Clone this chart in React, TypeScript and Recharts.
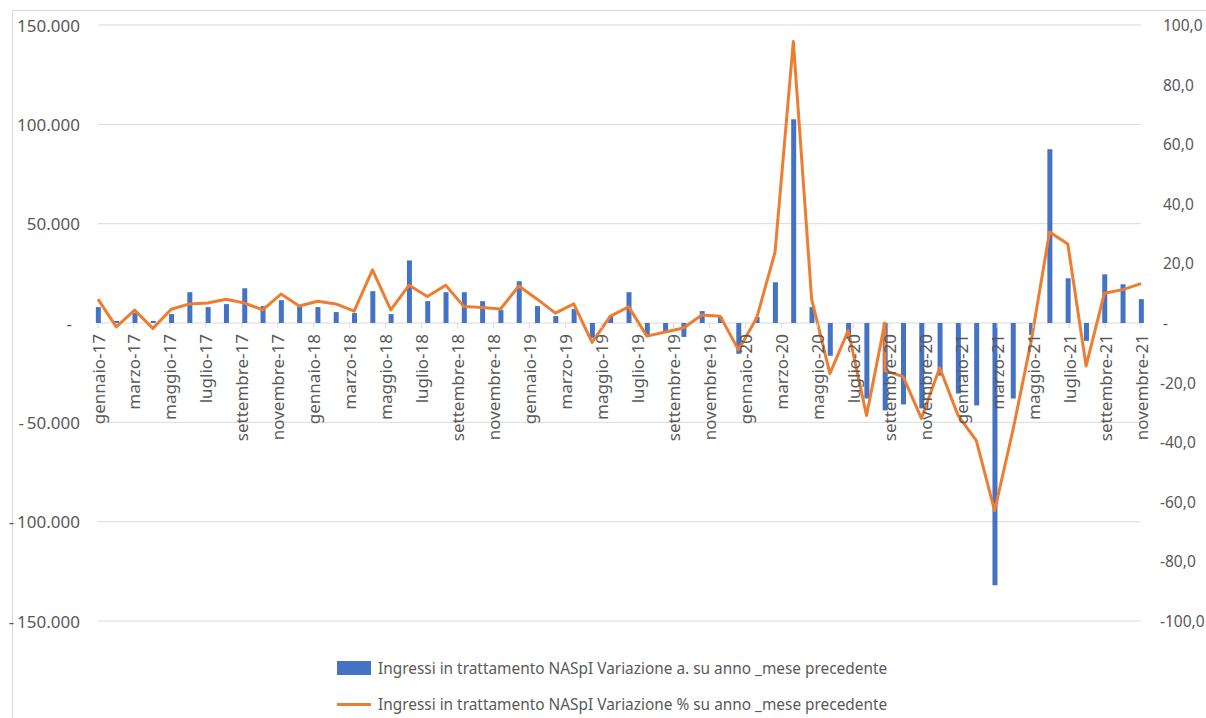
import React from "react";
import {
  Bar,
  CartesianGrid,
  ComposedChart,
  Line,
  XAxis,
  YAxis,
} from "recharts";

// axis labels: one per month
const MONTHS = [
  "gennaio-17", "febbraio-17", "marzo-17", "aprile-17", "maggio-17", "giugno-17",
  "luglio-17", "agosto-17", "settembre-17", "ottobre-17", "novembre-17", "dicembre-17",
  "gennaio-18", "febbraio-18", "marzo-18", "aprile-18", "maggio-18", "giugno-18",
  "luglio-18", "agosto-18", "settembre-18", "ottobre-18", "novembre-18", "dicembre-18",
  "gennaio-19", "febbraio-19", "marzo-19", "aprile-19", "maggio-19", "giugno-19",
  "luglio-19", "agosto-19", "settembre-19", "ottobre-19", "novembre-19", "dicembre-19",
  "gennaio-20", "febbraio-20", "marzo-20", "aprile-20", "maggio-20", "giugno-20",
  "luglio-20", "agosto-20", "settembre-20", "ottobre-20", "novembre-20", "dicembre-20",
  "gennaio-21", "febbraio-21", "marzo-21", "aprile-21", "maggio-21", "giugno-21",
  "luglio-21", "agosto-21", "settembre-21", "ottobre-21", "novembre-21",
];

// date each data row is filed under; the agosto-20 row sits on the settembre-20 date
const ROW_DATES = [
  ...MONTHS.slice(0, 43),
  "settembre-20",
  ...MONTHS.slice(44),
];

// Variazione assoluta su anno, mese precedente
const ABS_CHANGE: (number | null)[] = [
  8000, 1000, 5000, 1000, 4500, 15500, 8000, 9500, 17500, 8500, 11500, 9000,
  8000, 5500, 5000, 16000, 4500, 31500, 11000, 15500, 15500, 11000, 6500, 21000,
  8500, 3500, 7000, -7500, 3500, 15500, -6000, -4000, -7000, 6000, 3000, -15500,
  3000, 20500, 102500, 8000, -16500, -8000, -38000, null, -44000, -41000, -43000, -26500,
  -35500, -41500, -132000, -38000, -6000, 87500, 22500, -9000, 24500, 19500, 12000,
];

// Variazione % su anno, mese precedente
const PCT_CHANGE = [
  8.0, -1.3, 4.3, -1.8, 4.6, 6.4, 6.7, 8.0, 6.7, 4.4, 9.7, 5.7,
  7.3, 6.4, 4.0, 17.8, 4.4, 12.7, 8.9, 12.7, 5.5, 5.2, 4.7, 12.4,
  8.0, 3.3, 6.4, -6.5, 2.3, 5.4, -4.4, -3.0, -1.7, 2.7, 2.3, -9.0,
  1.7, 23.8, 94.5, 8.0, -17.0, -2.5, -31.0, 0.0, -16.0, -18.0, -32.0, -15.0,
  -31.0, -39.5, -63.0, -36.0, -6.0, 30.5, 26.5, -14.4, 10.0, 11.2, 13.2,
];

const LEFT_TICKS = [-150000, -100000, -50000, 0, 50000, 100000, 150000];
const RIGHT_TICKS = [-100, -80, -60, -40, -20, 0, 20, 40, 60, 80, 100];

const LEGEND_BAR = "Ingressi in trattamento NASpI Variazione a. su anno _mese precedente";
const LEGEND_LINE = "Ingressi in trattamento NASpI Variazione % su anno _mese precedente";

const BLUE = "#4472C4";
const ORANGE = "#ED7D31";
const TEXT = "#595959";
const GRID = "#d9d9d9";
const FONT = "'Noto Sans', 'Open Sans', sans-serif";
const AXIS_FONT = 17;
const RIGHT_FONT = 15.5;

const W = 1206;
const H = 718;
const PLOT_TOP = 25;
const PLOT_BOTTOM = 621;
const ZERO_Y = (PLOT_TOP + PLOT_BOTTOM) / 2;

const slots = Array.from(new Set(ROW_DATES));

const rows = ROW_DATES.map((date, i) => ({
  slot: slots.indexOf(date),
  abs: ABS_CHANGE[i],
  pct: PCT_CHANGE[i],
}));

const labelTicks = MONTHS.map((_, i) => i).filter((i) => i % 2 === 0);

const thousands = (n: number) => String(n).replace(/\B(?=(\d{3})+(?!\d))/g, ".");

function LeftTick({ x, y, payload }: any) {
  const v = payload.value as number;
  let label = thousands(Math.abs(v));
  let tx = x;
  if (v === 0) {
    label = "-";
    tx = x - 8;
  } else if (v < 0) {
    label = "-\u2009" + label;
  }
  return (
    <text x={tx} y={y} textAnchor="end" dominantBaseline="central" fill={TEXT} fontSize={AXIS_FONT} fontFamily={FONT}>
      {label}
    </text>
  );
}

function RightTick({ x, y, payload }: any) {
  const v = payload.value as number;
  let label = Math.abs(v).toFixed(1).replace(".", ",");
  let tx = x;
  if (v === 0) label = "-";
  else if (v < 0) {
    label = "-" + label;
    tx = x - 3;
  }
  return (
    <text x={tx} y={y} textAnchor="start" dominantBaseline="central" fill={TEXT} fontSize={RIGHT_FONT} fontFamily={FONT}>
      {label}
    </text>
  );
}

// month labels hang from the zero line, as in Excel
function MonthTick({ x, payload }: any) {
  const ty = ZERO_Y + 11;
  return (
    <g>
      <line x1={x} y1={ZERO_Y} x2={x} y2={ZERO_Y + 5} stroke={GRID} />
      <text
        x={x}
        y={ty}
        transform={`rotate(-90 ${x} ${ty})`}
        textAnchor="end"
        dominantBaseline="central"
        fill={TEXT}
        fontSize={AXIS_FONT}
        fontFamily={FONT}
      >
        {MONTHS[payload.value]}
      </text>
    </g>
  );
}

export default function App() {
  return (
    <div
      style={{
        position: "absolute",
        left: 0,
        top: 0,
        width: W,
        height: H,
        overflow: "hidden",
        background: "#fff",
        fontFamily: FONT,
      }}
    >
      <div
        style={{
          position: "absolute",
          left: 12,
          top: 10,
          width: W,
          height: H,
          border: `1px solid ${GRID}`,
        }}
      />
      <div style={{ position: "absolute", left: 0, top: 0 }}>
        <ComposedChart
          width={W}
          height={H}
          data={rows}
          margin={{ top: PLOT_TOP, right: 5, bottom: H - PLOT_BOTTOM - 20, left: 10 }}
        >
          <CartesianGrid xAxisId="data" yAxisId="left" vertical={false} stroke={GRID} />
          <XAxis
            xAxisId="data"
            dataKey="slot"
            type="number"
            domain={[0, slots.length - 1]}
            hide
          />
          <XAxis
            xAxisId="labels"
            type="number"
            domain={[0, MONTHS.length - 1]}
            allowDataOverflow
            ticks={labelTicks}
            interval={0}
            height={20}
            axisLine={false}
            tickLine={false}
            tick={<MonthTick />}
          />
          <YAxis
            yAxisId="left"
            domain={[-150000, 150000]}
            ticks={LEFT_TICKS}
            width={88}
            axisLine={false}
            tickLine={false}
            tickSize={0}
            tickMargin={18}
            tick={<LeftTick />}
          />
          <YAxis
            yAxisId="right"
            orientation="right"
            domain={[-100, 100]}
            ticks={RIGHT_TICKS}
            width={60}
            axisLine={false}
            tickLine={false}
            tickSize={0}
            tickMargin={22}
            tick={<RightTick />}
          />
          <Bar xAxisId="data" yAxisId="left" dataKey="abs" fill={BLUE} barSize={5} isAnimationActive={false} />
          <Line
            xAxisId="data"
            yAxisId="right"
            dataKey="pct"
            type="linear"
            stroke={ORANGE}
            strokeWidth={3}
            strokeLinejoin="round"
            dot={false}
            activeDot={false}
            isAnimationActive={false}
          />
        </ComposedChart>
      </div>
      <div style={{ position: "absolute", left: 337, top: 650, color: TEXT, fontSize: 15.4 }}>
        <div style={{ display: "flex", alignItems: "center", height: 36 }}>
          <span style={{ display: "inline-block", width: 34, height: 14, background: BLUE }} />
          <span style={{ marginLeft: 7, whiteSpace: "nowrap" }}>{LEGEND_BAR}</span>
        </div>
        <div style={{ display: "flex", alignItems: "center", height: 36 }}>
          <span style={{ display: "inline-block", width: 34, height: 3, background: ORANGE }} />
          <span style={{ marginLeft: 7, whiteSpace: "nowrap" }}>{LEGEND_LINE}</span>
        </div>
      </div>
    </div>
  );
}
